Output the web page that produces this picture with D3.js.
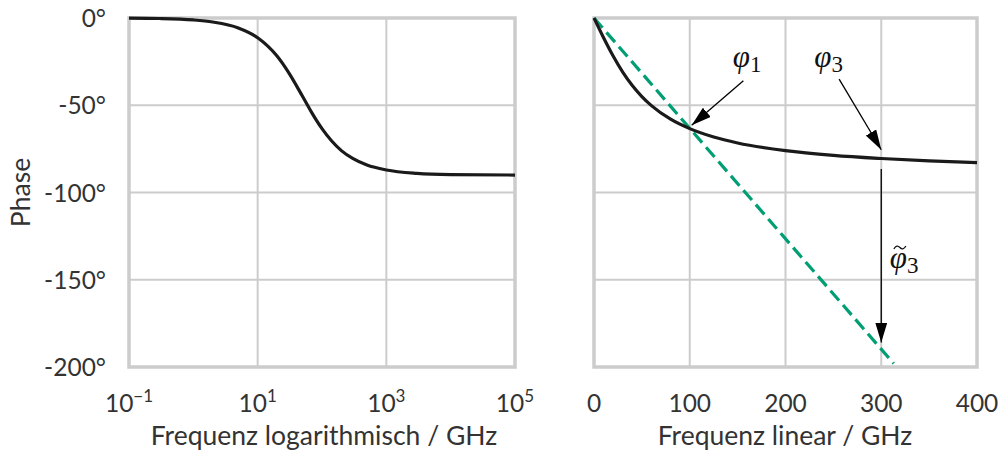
<!DOCTYPE html>
<html>
<head>
<meta charset="utf-8">
<script src="https://cdn.jsdelivr.net/npm/d3@7"></script>
<style>
  body { margin: 0; background: #fff; }
  svg text { font-family: Lato, 'DejaVu Sans', sans-serif; fill: #333; }
  .math { font-family: 'Liberation Serif', 'DejaVu Serif', serif; font-style: italic; fill: #111; }
</style>
</head>
<body>
<svg id="chart" width="998" height="452"></svg>
<script>
// Phase values
const logFreq = [0.1, 0.3, 1, 2, 5, 10, 20, 30, 50, 70, 100, 200, 300, 500, 1000, 3000, 10000, 100000];
const logPhase = [-0.1, -0.3, -1.1, -2.3, -5.7, -11.3, -21.8, -31, -45, -54.5, -63.4, -76, -80.5, -84.3, -87.1, -89, -89.7, -90];

const linFreq = [0, 10, 20, 30, 40, 50, 60, 80, 100, 125, 150, 200, 250, 300, 350, 400];
const linPhase = [0, -11.3, -21.8, -31, -38.7, -45, -50.2, -58, -63.4, -68.2, -71.6, -76, -78.7, -80.5, -81.9, -82.9];

// green dashed delay line
const delayFreq = [0, 313];
const delayPhase = [0, -198];

const yTicks = [0, -50, -100, -150, -200];
const logTicks = [0.1, 10, 1000, 100000];
const logExponents = [-1, 1, 3, 5];
const linTicks = [0, 100, 200, 300, 400];

// annotations in data coordinates of the right panel
const annotations = [
    { label: 'φ', sub: '1', tilde: false, tx: 145, ty: -28, from: [156, -36], to: [102, -61.5] },
    { label: 'φ', sub: '3', tilde: false, tx: 230, ty: -28, from: [256, -35], to: [300, -75.5] },
    { label: 'φ', sub: '3', tilde: true, tx: 309, ty: -143, from: [300, -86.5], to: [300, -186] }
];

const svg = d3.select('#chart');
const gridColor = '#cccccc';

const y = d3.scaleLinear().domain([-200, 0]).range([367, 18]);
const xLog = d3.scaleLog().domain([0.1, 100000]).range([129, 515]);
const xLin = d3.scaleLinear().domain([0, 400]).range([594, 977]);

svg.append('defs').append('marker')
    .attr('id', 'head')
    .attr('markerUnits', 'userSpaceOnUse')
    .attr('markerWidth', 20).attr('markerHeight', 12)
    .attr('refX', 20).attr('refY', 6)
    .attr('orient', 'auto')
    .append('path')
    .attr('d', 'M0,0 L20,6 L0,12 Z')
    .attr('fill', '#000');

function panel(x, xTicks) {
    const g = svg.append('g');
    const [x0, x1] = x.range();
    // horizontal grid
    g.selectAll('.hg').data(yTicks).join('line')
        .attr('x1', x0).attr('x2', x1)
        .attr('y1', d => y(d)).attr('y2', d => y(d))
        .attr('stroke', gridColor).attr('stroke-width', 2);
    // vertical grid
    g.selectAll('.vg').data(xTicks).join('line')
        .attr('x1', d => x(d)).attr('x2', d => x(d))
        .attr('y1', y(-200)).attr('y2', y(0))
        .attr('stroke', gridColor).attr('stroke-width', 2);
    // frame
    g.append('rect')
        .attr('x', x0).attr('y', y(0))
        .attr('width', x1 - x0).attr('height', y(-200) - y(0))
        .attr('fill', 'none').attr('stroke', gridColor).attr('stroke-width', 3.5);
    return g;
}

// Left panel
panel(xLog, logTicks);

svg.append('g').selectAll('text').data(yTicks).join('text')
    .attr('x', 106).attr('y', d => y(d) + 9)
    .attr('text-anchor', 'end')
    .attr('font-size', 24.5)
    .text(d => `${d}°`);

const logLabels = svg.append('g').selectAll('text').data(logTicks).join('text')
    .attr('x', d => xLog(d)).attr('y', 412)
    .attr('text-anchor', 'middle')
    .attr('font-size', 24.5);
logLabels.append('tspan').text('10');
logLabels.append('tspan')
    .attr('dy', -10).attr('font-size', 17)
    .text((d, i) => logExponents[i] < 0 ? `\u2212${-logExponents[i]}` : logExponents[i]);

svg.append('text')
    .attr('x', 324).attr('y', 445)
    .attr('text-anchor', 'middle')
    .attr('font-size', 26.5)
    .text('Frequenz logarithmisch / GHz');

svg.append('text')
    .attr('transform', `translate(30,${y(-100)}) rotate(-90)`)
    .attr('text-anchor', 'middle')
    .attr('font-size', 26.5)
    .text('Phase');

const lineLog = d3.line()
    .x((d, i) => xLog(logFreq[i]))
    .y(d => y(d))
    .curve(d3.curveMonotoneX);

svg.append('path')
    .datum(logPhase)
    .attr('fill', 'none')
    .attr('stroke', '#1a1a1a')
    .attr('stroke-width', 3.2)
    .attr('d', lineLog);

// Right panel
panel(xLin, linTicks);

svg.append('g').selectAll('text').data(linTicks).join('text')
    .attr('x', d => xLin(d)).attr('y', 412)
    .attr('text-anchor', 'middle')
    .attr('font-size', 24.5)
    .text(d => d);

svg.append('text')
    .attr('x', 785).attr('y', 445)
    .attr('text-anchor', 'middle')
    .attr('font-size', 26.5)
    .text('Frequenz linear / GHz');

svg.append('path')
    .datum(delayPhase)
    .attr('fill', 'none')
    .attr('stroke', '#029e73')
    .attr('stroke-width', 3.2)
    .attr('stroke-dasharray', '13,6')
    .attr('d', d3.line().x((d, i) => xLin(delayFreq[i])).y(d => y(d)));

const lineLin = d3.line()
    .x((d, i) => xLin(linFreq[i]))
    .y(d => y(d))
    .curve(d3.curveMonotoneX);

svg.append('path')
    .datum(linPhase)
    .attr('fill', 'none')
    .attr('stroke', '#1a1a1a')
    .attr('stroke-width', 3.2)
    .attr('d', lineLin);

// Annotations
annotations.forEach(a => {
    svg.append('line')
        .attr('x1', xLin(a.from[0])).attr('y1', y(a.from[1]))
        .attr('x2', xLin(a.to[0])).attr('y2', y(a.to[1]))
        .attr('stroke', '#000').attr('stroke-width', 1.3)
        .attr('marker-end', 'url(#head)');
    const tx = xLin(a.tx), ty = y(a.ty);
    const t = svg.append('text')
        .attr('class', 'math')
        .attr('x', tx).attr('y', ty)
        .attr('font-size', 31);
    t.append('tspan').text(a.label);
    t.append('tspan')
        .attr('dy', 5).attr('font-size', 23).attr('font-style', 'normal')
        .text(a.sub);
    if (a.tilde) {
        // tilde accent drawn as a small wave above the phi
        const cx = tx + 10, cy = ty - 20;
        svg.append('path')
            .attr('d', `M${cx - 6},${cy + 1.5} C${cx - 4},${cy - 2} ${cx - 2},${cy - 2} ${cx},${cy} S${cx + 4},${cy + 2} ${cx + 6},${cy - 1.5}`)
            .attr('fill', 'none')
            .attr('stroke', '#111')
            .attr('stroke-width', 1.3);
    }
});
</script>
</body>
</html>
